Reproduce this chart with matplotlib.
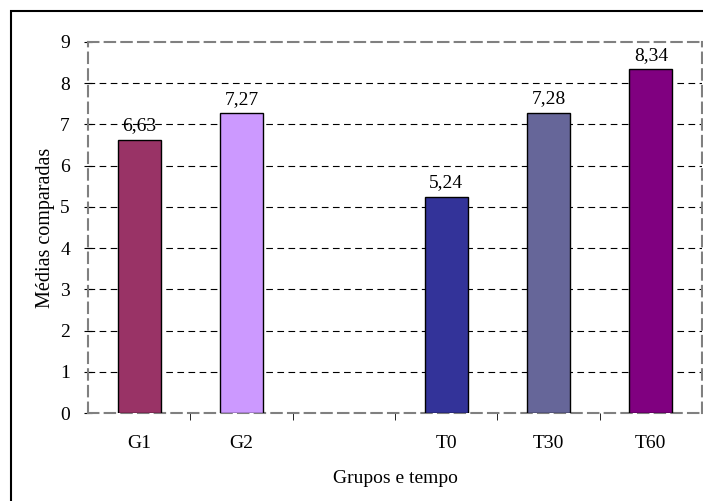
import matplotlib
matplotlib.use("Agg")
import matplotlib.pyplot as plt
from matplotlib.patches import Rectangle
from matplotlib.ticker import FixedLocator, NullFormatter

categories = ["G1", "G2", "", "T0", "T30", "T60"]
values = [6.63, 7.27, None, 5.24, 7.28, 8.34]
labels = ["6,63", "7,27", "", "5,24", "7,28", "8,34"]
colors = ["#993366", "#CC99FF", "#FFFFFF", "#333399", "#666699", "#800080"]
yticks = [0, 1, 2, 3, 4, 5, 6, 7, 8, 9]

plt.rcParams['font.family'] = ['Liberation Serif', 'DejaVu Serif']
fig = plt.figure(figsize=(7.03, 5.01), dpi=100)
ax = fig.add_axes([88/703, 1-413/501, (702-88)/703, (413-42)/501])

FS = 14
xs = list(range(len(categories)))
for x, v, lab, c in zip(xs, values, labels, colors):
    if v is None:
        continue
    ax.bar(x, v, width=0.42, color=c, edgecolor="black", linewidth=1.0, zorder=3)
    ax.annotate(lab, (x, v), xytext=(0, 4), textcoords="offset points",
                ha="center", va="bottom", fontsize=FS)

ax.set_xlim(-0.5, len(categories) - 0.5)
ax.set_ylim(0, 9)
ax.set_yticks(yticks)
ax.set_yticklabels([str(t) for t in yticks], fontsize=FS)
ax.set_xticks(xs)
ax.set_xticklabels(categories, fontsize=FS)
ax.tick_params(axis="x", length=0, pad=16)
ax.xaxis.set_minor_locator(FixedLocator([i + 0.5 for i in range(len(categories) - 1)]))
ax.xaxis.set_minor_formatter(NullFormatter())
ax.tick_params(axis="x", which="minor", length=5, direction="out", color="black")
ax.tick_params(axis="y", length=6, direction="inout", pad=10, color="black")

for y in yticks[1:-1]:
    ax.axhline(y, color="black", linestyle=(0, (6, 4)), linewidth=0.8, zorder=1)

for s in ax.spines.values():
    s.set_linestyle((0, (5, 3)))
    s.set_color("#808080")
    s.set_linewidth(1.5)

ax.set_ylabel("Médias comparadas", fontsize=14.5, labelpad=4)
ax.set_xlabel("Grupos e tempo", fontsize=FS, labelpad=13)

fig.patches.append(Rectangle((11/703, -0.1), 1.2, 1 - 11/501 + 0.1,
                             transform=fig.transFigure, fill=False,
                             edgecolor="black", linewidth=1.5))

fig.savefig("out.png", dpi=100)
